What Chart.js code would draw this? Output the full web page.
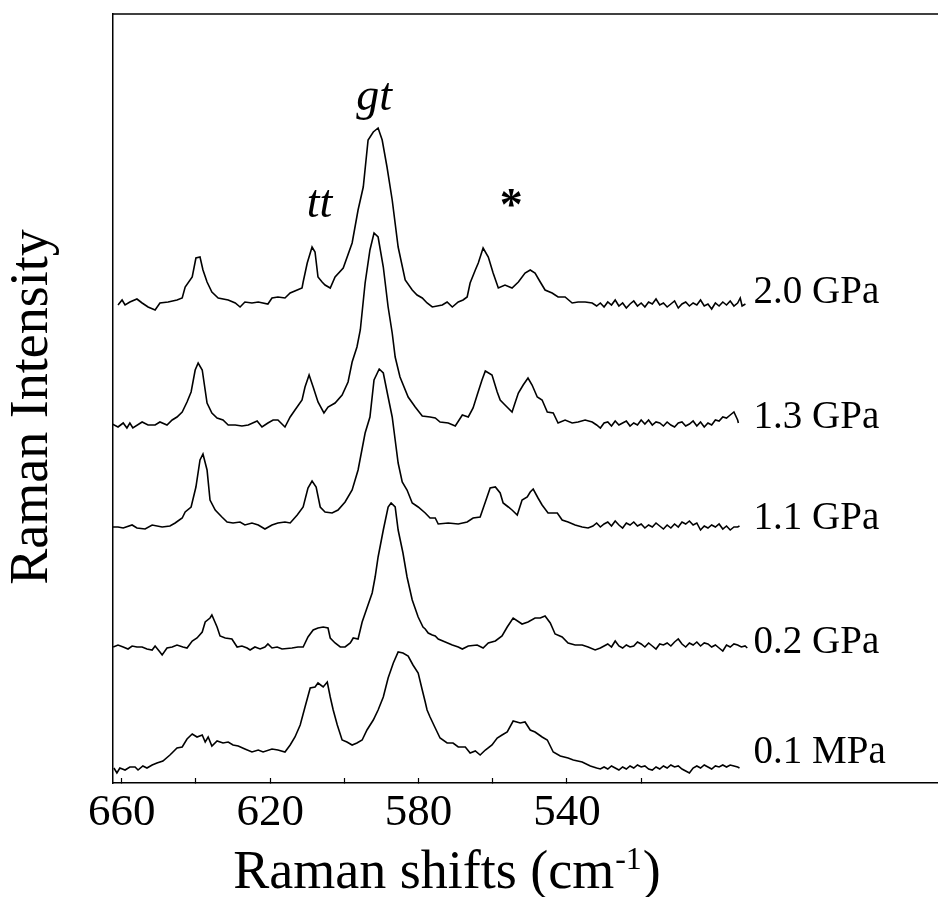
<!DOCTYPE html>
<html>
<head>
<meta charset="utf-8">
<title>Raman spectra under pressure</title>
<script src="https://cdn.jsdelivr.net/npm/chart.js@4.4.0/dist/chart.umd.min.js"></script>
<style>
html, body { margin: 0; padding: 0; background: #fff; }
canvas { display: block; }
</style>
</head>
<body>
<canvas id="ramanChart" width="938" height="897"></canvas>
<script>
// Raman shift (cm-1) and intensity (arbitrary units, spectra stacked)
const wn20 = [661.0,659.9,659.1,657.8,655.9,654.5,652.9,651.0,649.7,647.5,645.1,643.7,642.9,641.0,640.0,638.9,638.1,637.0,635.7,634.0,
  631.3,629.4,628.1,626.8,624.9,623.2,620.6,619.5,617.9,616.0,614.6,612.7,611.4,611.1,610.0,608.7,607.9,607.1,606.0,605.2,
  603.8,602.5,600.3,597.9,596.3,594.9,593.6,592.2,590.9,589.8,588.5,587.1,585.5,583.6,581.7,580.4,579.0,577.7,576.3,573.6,
  572.3,570.9,569.3,568.0,566.9,566.1,564.7,563.9,562.6,561.2,559.9,558.5,556.7,554.8,553.1,551.3,549.9,548.6,547.2,545.9,
  544.0,542.4,540.5,538.6,537.0,535.1,533.2,
  532,531,530,529,528,527,526,525,524,523,522,521,520,519,518,517,516,515,514,513,
  512,511,510,509,508,507,506,505,504,503,502,501,500,499,498,497,496,495,494,493.3,492.8,491.9];
const int20 = [478,483,478,481,484,480,476,473,480,481,483,485,496,506,525,526,513,501,491,485,
  483,480,476,481,480,481,479,485,486,485,490,493,495,501,520,536,531,506,501,498,
  495,506,515,540,573,596,643,651,655,643,616,583,536,503,493,488,485,480,476,478,
  481,476,481,483,486,500,513,520,535,526,510,495,498,495,501,510,513,510,501,493,
  490,486,486,480,481,481,480,
  477,480,476,481,478,483,477,480,475,479,482,477,480,476,481,479,484,478,480,476,
  479,482,475,479,481,477,480,478,483,477,479,474,480,477,481,478,482,477,480,485,477,479];

const wn13 = [662.6,661.0,659.6,658.6,657.8,657.0,654.5,652.9,651.0,649.7,647.8,646.4,645.1,643.7,642.4,641.3,640.2,639.4,638.3,637.0,
  635.7,634.3,632.7,631.3,629.4,627.6,625.9,623.5,622.2,620.6,619.2,617.9,616.0,614.6,613.3,611.4,610.6,609.5,608.4,607.1,
  605.5,604.4,602.5,600.6,599.0,597.9,596.6,595.7,594.4,593.1,592.0,590.9,589.5,588.2,587.1,586.3,585.0,582.8,580.9,579.0,
  576.9,575.5,574.2,572.0,570.1,568.2,566.6,565.3,564.2,562.9,562.0,560.2,558.8,558.0,556.7,554.8,554.0,553.1,551.8,550.5,
  549.4,548.0,546.7,545.3,543.7,542.4,540.5,538.6,537.0,535.1,533.2,
  532,531,530,529,528,527,526,525,524,523,522,521,520,519,518,517,516,515,514,513,
  512,511,510,509,508,507,506,505,504,503,502,501,500,499,498,497,496,495,494,493.8];
const int13 = [359,356,360,355,360,355,361,358,358,361,358,363,366,371,381,391,413,420,413,380,
  370,365,363,358,358,357,358,362,356,360,363,363,356,366,373,383,396,408,396,381,
  370,376,380,388,401,421,436,453,500,533,550,546,516,476,450,426,406,386,376,367,
  366,365,361,360,357,368,366,375,388,403,412,408,391,383,378,371,380,390,398,405,
  398,386,383,371,370,360,363,360,361,363,361,
  358,355,360,361,357,362,358,360,362,357,360,358,363,359,363,358,361,360,357,361,
  358,356,360,361,357,359,362,357,361,356,360,358,363,362,366,365,368,371,363,360];

const wn11 = [662.6,661.0,659.6,657.2,655.9,653.7,651.8,649.1,647.0,645.6,643.7,642.9,641.3,640.0,638.9,638.1,637.0,636.2,634.8,633.0,
  631.6,630.0,628.1,626.8,624.9,623.2,621.4,619.5,617.9,616.0,614.6,612.7,611.1,609.8,608.7,607.6,606.5,605.2,603.3,601.7,
  599.8,597.9,596.3,594.4,593.1,592.0,590.6,589.5,588.2,587.1,586.3,585.5,584.4,583.1,581.7,580.1,578.2,576.9,575.5,574.7,
  572.0,569.3,566.9,565.3,563.4,562.0,560.7,559.3,558.0,557.2,555.8,554.8,553.4,552.1,550.7,549.9,549.1,547.8,546.7,545.1,
  542.6,541.3,539.7,537.8,535.9,534.3,
  533,532,531,530,529,528,527,526,525,524,523,522,521,520,519,518,517,516,515,514,
  513,512,511,510,509,508,507,506,505,504,503,502,501,500,499,498,497,496,495,494,493.5];
const int11 = [256,256,255,258,255,254,258,256,257,260,265,271,276,296,323,329,313,283,273,266,
  261,260,261,258,260,258,254,258,260,261,260,268,276,295,302,296,276,271,270,273,
  281,293,313,350,366,403,414,410,386,366,343,320,301,293,280,276,270,265,265,259,
  260,259,261,265,266,281,295,296,290,280,276,273,268,283,286,291,294,285,278,270,
  270,263,261,258,256,255,
  257,260,256,259,261,257,262,258,255,260,258,261,257,259,255,258,256,260,257,254,
  258,255,259,256,261,259,262,258,260,253,257,255,258,256,259,254,257,253,256,256,257];

const wn02 = [662.3,661.0,659.6,658.3,657.2,655.9,654.5,653.2,651.8,651.0,649.7,649.1,647.8,646.4,645.1,643.5,642.4,641.0,639.7,638.3,
  637.5,636.2,635.7,634.3,633.5,632.1,630.3,628.9,627.6,626.2,625.4,624.1,622.7,621.4,620.6,619.5,618.1,616.8,614.1,612.5,
  611.1,609.8,608.4,607.1,605.7,604.4,603.8,602.5,601.1,599.8,598.4,597.6,596.3,595.2,593.9,592.5,591.7,590.9,589.5,588.2,
  587.4,586.3,585.5,584.2,583.1,581.7,580.1,578.8,578.2,577.4,576.3,575.5,574.7,572.8,570.9,569.3,568.2,566.6,564.2,562.6,
  561.2,559.3,557.5,556.1,554.5,552.1,550.5,548.6,547.2,545.9,544.5,543.2,541.3,539.7,537.8,535.9,534.3,532.4,
  531,530,529,528,527,526,525,524,523,522,521,520,519,518,517,516,515,514,513,512,
  511,510,509,508,507,506,505,504,503,502,501,500,499,498,497,496,495,494,493,492,491.4];
const int02 = [136,138,136,134,137,136,136,134,133,137,131,128,135,136,138,136,135,142,145,151,
  161,165,168,156,147,145,144,136,137,135,133,136,134,136,139,135,136,134,135,136,
  136,146,153,155,156,155,145,140,136,136,140,145,144,161,175,190,206,226,253,276,
  280,276,253,230,206,183,166,156,154,150,148,147,144,141,138,136,134,137,138,135,
  140,142,147,156,165,159,161,165,165,167,160,149,146,140,138,138,136,133,
  135,137,139,136,142,137,135,138,136,137,141,139,136,140,137,134,139,138,140,137,
  141,144,139,136,140,138,141,137,140,139,136,138,135,132,138,136,139,138,136,137,135];

const wn01 = [662.1,661.3,660.5,659.1,657.8,656.4,655.6,654.3,653.2,651.8,650.5,648.9,647.0,645.1,643.7,642.4,641.0,639.7,638.3,637.5,
  636.7,635.7,634.3,632.7,631.3,630.0,628.6,626.8,624.9,623.2,621.9,619.5,617.9,616.0,614.6,613.3,611.9,610.6,609.2,607.9,
  607.1,605.7,604.6,603.8,603.0,601.9,600.6,599.3,597.9,596.6,595.2,593.9,592.2,590.9,589.5,588.2,586.8,585.5,584.2,582.8,
  581.5,580.1,579.0,578.2,577.7,576.9,575.5,574.2,572.3,570.7,569.3,567.4,566.1,564.7,563.4,562.0,560.2,558.8,557.5,556.1,
  554.5,552.6,551.3,549.9,548.6,546.7,545.3,543.7,541.8,539.7,538.3,535.9,533.7,
  532,531,530,529,528,527,526,525,524,523,522,521,520,519,518,517,516,515,514,513,
  512,511,510,509,508,507,506,505,504,503,502,501,500,499,498,497,496,495,494,493.5];
const int01 = [15,10,15,13,16,16,13,17,15,18,20,22,28,35,36,44,49,46,48,41,
  46,37,42,40,41,38,37,34,31,33,31,34,33,31,38,46,58,76,95,96,
  100,96,101,86,73,58,43,41,38,40,43,53,63,73,86,105,120,131,130,127,
  118,110,93,81,73,66,55,45,40,40,36,36,30,32,28,33,38,45,48,51,
  62,60,61,53,51,46,43,31,27,25,23,21,17,
  15,14,16,14,17,15,13,16,14,17,15,18,16,17,14,13,16,14,17,15,
  18,16,17,14,12,10,15,17,15,18,16,14,17,16,18,16,18,17,16,15];

const pressureLabels = ['2.0 GPa', '1.3 GPa', '1.1 GPa', '0.2 GPa', '0.1 MPa'];
const pressureLevels = [480, 355, 254, 130, 20];   // baseline intensity each label sits on
const pressureLabelShift = 489.7;                  // Raman shift where the labels start

const peakNames = ['gt', 'tt', '*'];
const peakShifts = [592.0, 606.7, 555.0];
const peakLevels = [673, 566, 563];

const xTicks = [520, 540, 560, 580, 600, 620, 640, 660];
const xTickLabels = [540, 580, 620, 660];

const SERIF = '"Liberation Serif", "Times New Roman", Times, serif';

function toPoints(wn, inten) {
    return wn.map((w, i) => ({ x: w, y: inten[i] }));
}

function spectrum(label, wn, inten) {
    return {
        label: label,
        data: toPoints(wn, inten),
        borderColor: '#000',
        borderWidth: 1.6,
        pointRadius: 0,
        tension: 0,
        fill: false
    };
}

const ramanText = {
    id: 'ramanText',
    afterDraw(chart) {
        const { ctx, chartArea } = chart;
        const x = chart.scales.x;
        const y = chart.scales.y;
        ctx.save();

        // top frame line (no right frame in the original)
        ctx.strokeStyle = '#000';
        ctx.lineWidth = 1.5;
        ctx.beginPath();
        ctx.moveTo(chartArea.left, chartArea.top);
        ctx.lineTo(chartArea.right, chartArea.top);
        ctx.stroke();

        ctx.fillStyle = '#000';
        ctx.textBaseline = 'alphabetic';

        // pressure labels
        ctx.font = '39px ' + SERIF;
        ctx.textAlign = 'left';
        pressureLabels.forEach((t, i) => {
            ctx.fillText(t, x.getPixelForValue(pressureLabelShift), y.getPixelForValue(pressureLevels[i]));
        });

        // peak assignments
        ctx.textAlign = 'center';
        peakNames.forEach((t, i) => {
            ctx.font = (t === '*' ? 'bold 46px ' : 'italic 46px ') + SERIF;
            ctx.fillText(t, x.getPixelForValue(peakShifts[i]), y.getPixelForValue(peakLevels[i]));
        });

        // y axis title
        ctx.save();
        ctx.translate(47, 407);
        ctx.rotate(-Math.PI / 2);
        ctx.font = '54px ' + SERIF;
        ctx.textAlign = 'center';
        ctx.fillText('Raman Intensity', 0, 0);
        ctx.restore();

        // x axis title with superscript
        const main = 'Raman shifts (cm', sup = '-1', close = ')';
        ctx.textAlign = 'left';
        ctx.font = '54px ' + SERIF;
        const w1 = ctx.measureText(main).width;
        const w3 = ctx.measureText(close).width;
        ctx.font = '32px ' + SERIF;
        const w2 = ctx.measureText(sup).width;
        const sx = 446 - (w1 + w2 + w3) / 2;
        const by = 888;
        ctx.font = '54px ' + SERIF;
        ctx.fillText(main, sx, by);
        ctx.font = '32px ' + SERIF;
        ctx.fillText(sup, sx + w1 + 1, by - 19);
        ctx.font = '54px ' + SERIF;
        ctx.fillText(close, sx + w1 + w2 + 2, by);

        ctx.restore();
    }
};

function renderRamanChart(canvasId) {
    if (typeof Chart === 'undefined') {
        console.error('Chart.js not loaded.');
        throw new Error('Chart.js not loaded.');
    }
    const ctx = document.getElementById(canvasId).getContext('2d');
    return new Chart(ctx, {
        type: 'line',
        data: {
            datasets: [
                spectrum('2.0 GPa', wn20, int20),
                spectrum('1.3 GPa', wn13, int13),
                spectrum('1.1 GPa', wn11, int11),
                spectrum('0.2 GPa', wn02, int02),
                spectrum('0.1 MPa', wn01, int01)
            ]
        },
        options: {
            responsive: false,
            animation: false,
            layout: { padding: { top: 14, right: 0, bottom: 0, left: 0 } },
            plugins: {
                legend: { display: false },
                tooltip: { enabled: false }
            },
            scales: {
                x: {
                    type: 'linear',
                    position: 'bottom',
                    reverse: true,
                    min: 440,
                    max: 662.35,
                    afterBuildTicks: scale => {
                        scale.ticks = xTicks.map(v => ({ value: v }));
                    },
                    afterFit: scale => { scale.height = 114; },
                    ticks: {
                        autoSkip: false,
                        maxRotation: 0,
                        minRotation: 0,
                        padding: 8,
                        color: '#000',
                        font: { family: SERIF, size: 45 },
                        callback: v => xTickLabels.includes(v) ? String(v) : ''
                    },
                    grid: {
                        display: true,
                        drawOnChartArea: false,
                        drawTicks: true,
                        tickLength: -5,
                        tickWidth: 1.2,
                        tickColor: '#000'
                    },
                    border: { display: true, color: '#000', width: 1.5 }
                },
                y: {
                    type: 'linear',
                    position: 'left',
                    min: 0,
                    max: 769,
                    afterFit: scale => { scale.width = 113; },
                    ticks: { display: false },
                    grid: { display: false },
                    border: { display: true, color: '#000', width: 1.5 }
                }
            }
        },
        plugins: [ramanText]
    });
}

renderRamanChart('ramanChart');
</script>
</body>
</html>
